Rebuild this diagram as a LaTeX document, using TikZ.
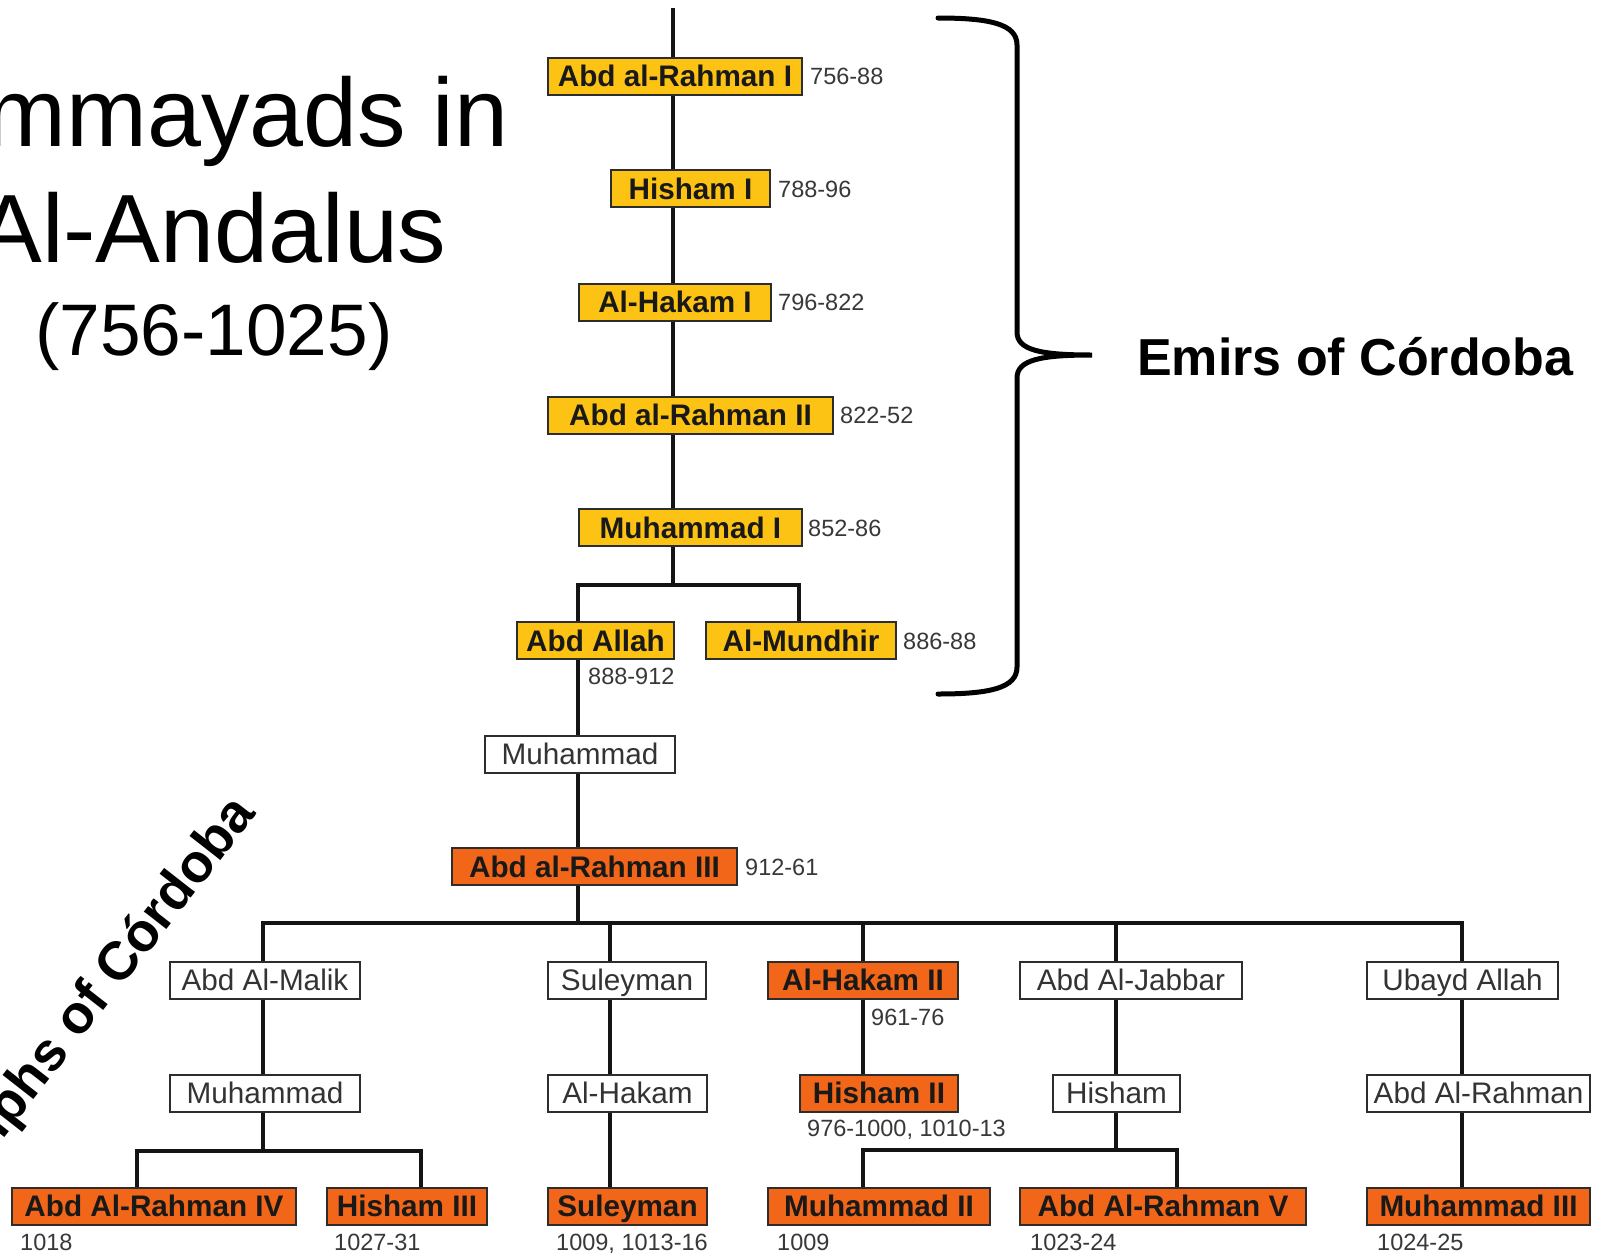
\documentclass[tikz,border=0pt]{standalone}
\usepackage{fontspec}
\setmainfont{Liberation Sans}
\definecolor{emirgold}{RGB}{252,194,20}
\definecolor{califred}{RGB}{241,102,24}
\definecolor{boxedge}{RGB}{45,45,45}
\begin{document}
\begin{tikzpicture}[x=1pt,y=-1pt,line join=miter,
 box/.style={draw=boxedge,line width=2pt,minimum height=37pt,inner sep=0pt,text height=21.3pt,text depth=0pt,text=black!80,font=\fontsize{29.7}{30}\selectfont},
 emir/.style={box,fill=emirgold,text=black!90,font=\bfseries\fontsize{29.7}{30}\selectfont},
 calif/.style={box,fill=califred,text=black!90,font=\bfseries\fontsize{29.7}{30}\selectfont},
 kin/.style={box,fill=white},
 yr/.style={anchor=base west,inner sep=0pt,text=black!78,font=\fontsize{23.5}{24}\selectfont},
 link/.style={line width=4pt,black!92},
 brace/.style={line width=5pt,line cap=round,black}]
 \useasboundingbox (0,0) rectangle (1597,1253);
 \clip (0,0) rectangle (1597,1253);
 \fill[white] (0,0) rectangle (1597,1253);
 % title
 \node[anchor=base,font=\fontsize{97}{97}\selectfont] (ttl1) at (212,146) {Ummayads in};
 \node[anchor=base,font=\fontsize{97}{97}\selectfont] (ttl2) at (212,262) {Al-Andalus};
 \node[anchor=base,font=\fontsize{73}{73}\selectfont] (ttl3) at (214,355) {(756-1025)};
 % emirs
 \node[emir,minimum width=254pt] (ar1) at (675,76) {Abd al-Rahman I};
 \node[emir,minimum width=159pt] (hi1) at (690.5,188.5) {Hisham I};
 \node[emir,minimum width=192pt] (hk1) at (675,302) {Al-Hakam I};
 \node[emir,minimum width=285pt] (ar2) at (690.5,415) {Abd al-Rahman II};
 \node[emir,minimum width=223pt] (mu1) at (690.5,527.5) {Muhammad I};
 \node[emir,minimum width=157pt] (aal) at (595.5,640.5) {Abd Allah};
 \node[emir,minimum width=190pt] (mun) at (801,640.5) {Al-Mundhir};
 \node[yr] (y1) at (810,84.5) {756-88};
 \node[yr] (y2) at (778,197) {788-96};
 \node[yr] (y3) at (778,310.5) {796-822};
 \node[yr] (y4) at (840,423.5) {822-52};
 \node[yr] (y5) at (808,536) {852-86};
 \node[yr] (y6) at (903,649) {886-88};
 \node[yr] (y7) at (588,684.5) {888-912};
 % caliphs and kin
 \node[kin,minimum width=190pt] (muh) at (580,754) {Muhammad};
 \node[calif,minimum width=285pt] (ar3) at (594.5,866.5) {Abd al-Rahman III};
 \node[yr] (y8) at (745,875) {912-61};
 \node[kin,minimum width=190pt] (mal) at (265,980) {Abd Al-Malik};
 \node[kin,minimum width=158pt] (sul) at (627,980) {Suleyman};
 \node[calif,minimum width=190pt] (hk2) at (863,980) {Al-Hakam II};
 \node[kin,minimum width=222pt] (jab) at (1131,980) {Abd Al-Jabbar};
 \node[kin,minimum width=191pt] (uba) at (1462.5,980) {Ubayd Allah};
 \node[yr] (y9) at (871,1025.5) {961-76};
 \node[kin,minimum width=190pt] (muk) at (265,1093) {Muhammad};
 \node[kin,minimum width=159pt] (hak) at (627.5,1093) {Al-Hakam};
 \node[calif,minimum width=158pt] (hi2) at (879,1093) {Hisham II};
 \node[kin,minimum width=127pt] (his) at (1116.5,1093) {Hisham};
 \node[kin,minimum width=223pt] (abr) at (1478.5,1093) {Abd Al-Rahman};
 \node[yr] (y10) at (807,1136.5) {976-1000, 1010-13};
 \node[calif,minimum width=284pt] (ar4) at (154,1206) {Abd Al-Rahman IV};
 \node[calif,minimum width=160pt] (hi3) at (407,1206) {Hisham III};
 \node[calif,minimum width=159pt] (su2) at (627.5,1206) {Suleyman};
 \node[calif,minimum width=222pt] (mu2) at (879,1206) {Muhammad II};
 \node[calif,minimum width=286pt] (ar5) at (1163,1206) {Abd Al-Rahman V};
 \node[calif,minimum width=223pt] (mu3) at (1478.5,1206) {Muhammad III};
 \node[yr] (y11) at (20,1250) {1018};
 \node[yr] (y12) at (334,1250) {1027-31};
 \node[yr] (y13) at (556,1250) {1009, 1013-16};
 \node[yr] (y14) at (777,1250) {1009};
 \node[yr] (y15) at (1030,1250) {1023-24};
 \node[yr] (y16) at (1377,1250) {1024-25};
 % connectors
 \coordinate (top) at (673,8);
 \coordinate (fkm) at (673,585);
 \coordinate (ca) at (578,0);
 \coordinate (cm) at (799,0);
 \coordinate (fka) at (578,923);
 \coordinate (c1) at (263,0);
 \coordinate (c2) at (610,0);
 \coordinate (c3) at (863,0);
 \coordinate (c4) at (1116,0);
 \coordinate (c5) at (1462,0);
 \coordinate (fk1) at (263,1151);
 \coordinate (fk4) at (1116,1150);
 \coordinate (l4) at (137,0);
 \coordinate (r3) at (421,0);
 \coordinate (r5) at (1177,0);
 \draw[link] (top) -- (ar1.north -| top);
 \foreach \a/\b in {ar1/hi1,hi1/hk1,hk1/ar2,ar2/mu1}
  \draw[link] (\a.south -| top) -- (\b.north -| top);
 \draw[link] (mu1.south -| fkm) -- (fkm);
 \draw[link] (aal.north -| ca) |- (fkm) -| (mun.north -| cm);
 \draw[link] (aal.south -| ca) -- (muh.north -| ca);
 \draw[link] (muh.south -| ca) -- (ar3.north -| ca);
 \draw[link] (ar3.south -| ca) -- (fka);
 \draw[link] (mal.north -| c1) |- (fka) -| (uba.north -| c5);
 \foreach \n/\c in {sul/c2,hk2/c3,jab/c4}
  \draw[link] (\n.north -| \c) -- (\c |- fka);
 \draw[link] (mal.south -| c1) -- (muk.north -| c1);
 \draw[link] (muk.south -| c1) -- (fk1);
 \draw[link] (ar4.north -| l4) |- (fk1) -| (hi3.north -| r3);
 \draw[link] (sul.south -| c2) -- (hak.north -| c2);
 \draw[link] (hak.south -| c2) -- (su2.north -| c2);
 \draw[link] (hk2.south -| c3) -- (hi2.north -| c3);
 \draw[link] (jab.south -| c4) -- (his.north -| c4);
 \draw[link] (his.south -| c4) -- (fk4);
 \draw[link] (mu2.north -| c3) |- (fk4) -| (ar5.north -| r5);
 \draw[link] (uba.south -| c5) -- (abr.north -| c5);
 \draw[link] (abr.south -| c5) -- (mu3.north -| c5);
 % brace and labels
 \coordinate (tip) at (1092,355);
 \draw[brace] (938,18) .. controls (990,18) and (1017,24) .. (1017,45) -- (1017,332)
  .. controls (1017,350) and (1040,355) .. (tip)
  .. controls (1040,355) and (1017,360) .. (1017,378) -- (1017,667)
  .. controls (1017,688) and (990,694) .. (938,694);
 \node[anchor=base west,inner sep=0pt,font=\bfseries\fontsize{52}{52}\selectfont] (emirs) at (1137,375) {Emirs of Córdoba};
 \node[rotate=52,anchor=base,inner sep=0pt,font=\bfseries\fontsize{54}{54}\selectfont] (califs) at (104,1010) {Caliphs of Córdoba};
\end{tikzpicture}
\end{document}
